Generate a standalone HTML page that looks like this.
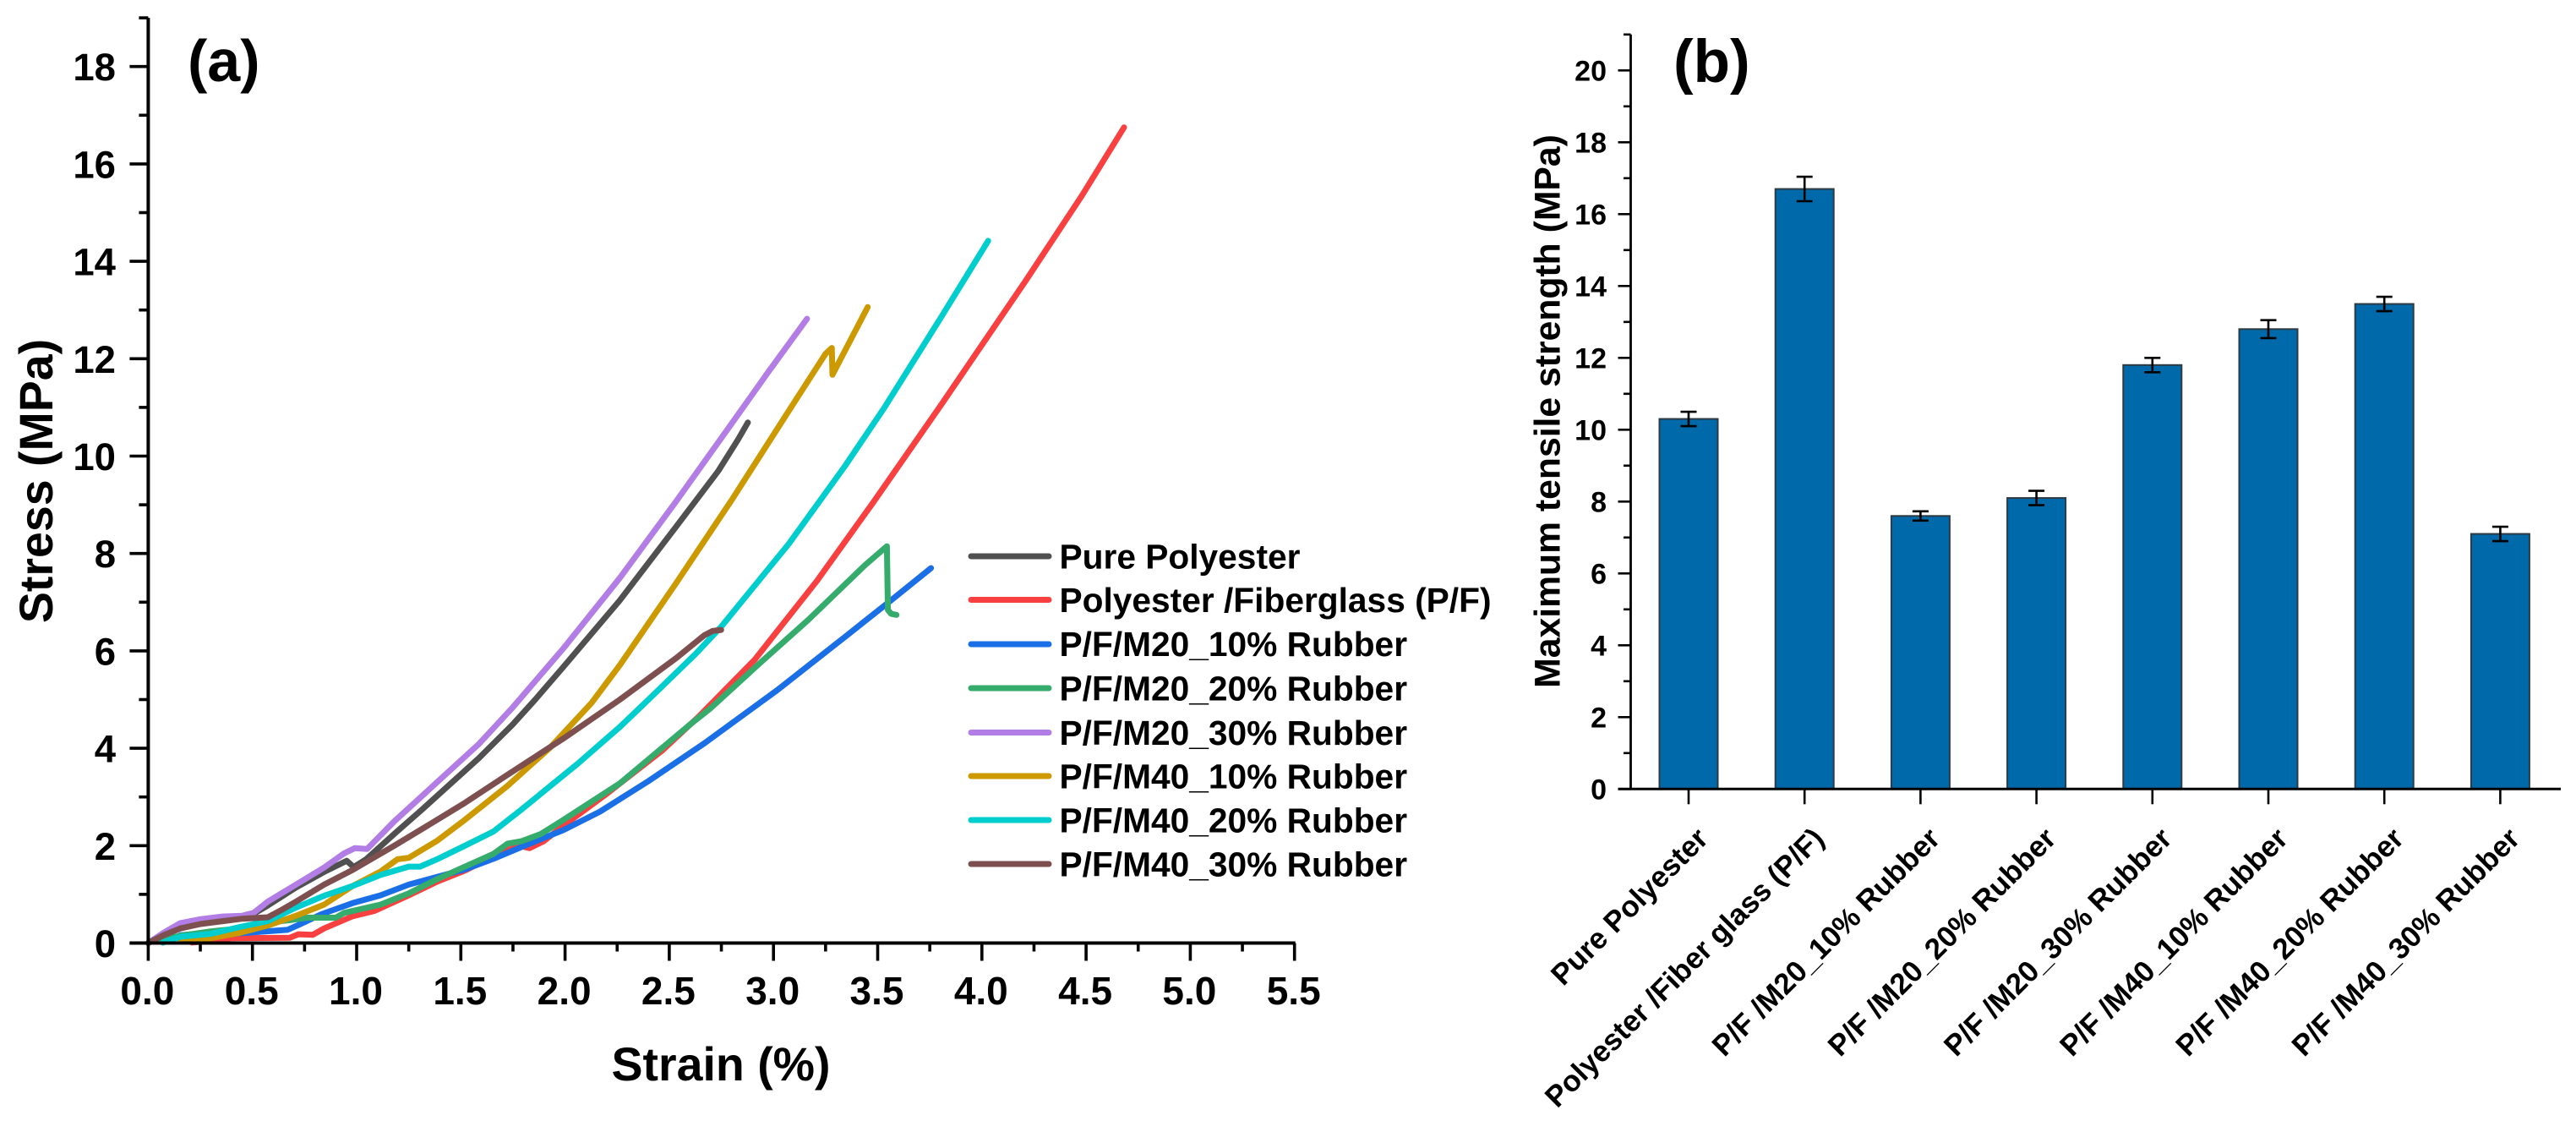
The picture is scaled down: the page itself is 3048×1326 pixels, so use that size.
<!DOCTYPE html>
<html lang="en">
<head>
<meta charset="utf-8">
<title>Stress-strain curves and maximum tensile strength</title>
<style>
html,body{margin:0;padding:0;background:#fff;}
svg{display:block;}
text{font-family:"Liberation Sans",Arial,sans-serif;font-weight:bold;fill:#000;}
</style>
</head>
<body>
<svg id="figure" xmlns="http://www.w3.org/2000/svg" width="3048" height="1326" viewBox="0 0 3048 1326">
  <rect x="0" y="0" width="3048" height="1326" fill="#ffffff"/>
  <g id="panel-a"></g>
  <g id="panel-b"></g>

  <text x="222" y="96" font-size="70">(a)</text>
  <text x="1980" y="97" font-size="71">(b)</text>
  <text x="853" y="1278" font-size="55.5" text-anchor="middle">Strain (%)</text>
  <text transform="translate(62 569) rotate(-90)" font-size="55.5" text-anchor="middle">Stress (MPa)</text>
  <text transform="translate(1845.5 486.5) rotate(-90)" font-size="42.7" text-anchor="middle">Maximum tensile strength (MPa)</text>

  <g font-size="40.7">
    <g>
      <line x1="1149" x2="1241" y1="658" y2="658" stroke="#505050" stroke-width="7" stroke-linecap="round"/>
      <text x="1253.5" y="672.5">Pure Polyester</text>
    </g>
    <g>
      <line x1="1149" x2="1241" y1="709.5" y2="709.5" stroke="#f94040" stroke-width="7" stroke-linecap="round"/>
      <text x="1253.5" y="724">Polyester /Fiberglass (P/F)</text>
    </g>
    <g>
      <line x1="1149" x2="1241" y1="762" y2="762" stroke="#1a6fe6" stroke-width="7" stroke-linecap="round"/>
      <text x="1253.5" y="776">P/F/M20_10% Rubber</text>
    </g>
    <g>
      <line x1="1149" x2="1241" y1="814" y2="814" stroke="#35ab6c" stroke-width="7" stroke-linecap="round"/>
      <text x="1253.5" y="828.5">P/F/M20_20% Rubber</text>
    </g>
    <g>
      <line x1="1149" x2="1241" y1="866.5" y2="866.5" stroke="#b27de4" stroke-width="7" stroke-linecap="round"/>
      <text x="1253.5" y="881">P/F/M20_30% Rubber</text>
    </g>
    <g>
      <line x1="1149" x2="1241" y1="918" y2="918" stroke="#cc9900" stroke-width="7" stroke-linecap="round"/>
      <text x="1253.5" y="932.5">P/F/M40_10% Rubber</text>
    </g>
    <g>
      <line x1="1149" x2="1241" y1="970" y2="970" stroke="#00cdcd" stroke-width="7" stroke-linecap="round"/>
      <text x="1253.5" y="984.5">P/F/M40_20% Rubber</text>
    </g>
    <g>
      <line x1="1149" x2="1241" y1="1022" y2="1022" stroke="#7d4f4f" stroke-width="7" stroke-linecap="round"/>
      <text x="1253.5" y="1036.5">P/F/M40_30% Rubber</text>
    </g>
  </g>
</svg>
<script>
// Panel (a) data: strain (%) and stress (MPa)
const strainPure = [0,0.073,0.154,0.25,0.357,0.452,0.506,0.574,0.709,0.844,0.952,0.986,1.046,1.183,1.316,1.587,1.749,1.857,1.992,2.263,2.533,2.736,2.83,2.877];
const stressPure = [0,0.2,0.38,0.46,0.52,0.55,0.6,0.77,1.14,1.46,1.69,1.56,1.72,2.25,2.75,3.8,4.49,5.0,5.67,7.04,8.55,9.7,10.34,10.69];

const strainFiberglass = [0.21,0.357,0.4,0.68,0.72,0.79,0.844,0.98,1.086,1.25,1.386,1.52,1.656,1.776,1.83,1.897,1.992,2.195,2.465,2.641,2.91,3.209,3.479,3.804,4.21,4.48,4.682];
const stressFiberglass = [0.01,0.07,0.1,0.11,0.18,0.17,0.3,0.55,0.66,0.98,1.26,1.49,1.78,2.0,1.95,2.09,2.41,3.05,3.95,4.65,5.82,7.44,9.05,11.05,13.6,15.35,16.75];

const strainM20r10 = [0.07,0.154,0.3,0.4,0.506,0.668,0.72,0.83,0.98,1.114,1.25,1.386,1.519,1.656,1.79,1.992,2.168,2.398,2.668,3.02,3.344,3.547,3.756];
const stressM20r10 = [0.01,0.16,0.21,0.19,0.22,0.27,0.37,0.59,0.82,0.98,1.2,1.36,1.51,1.73,1.97,2.32,2.7,3.32,4.1,5.2,6.29,6.98,7.7];

const strainM20r20 = [0.03,0.154,0.3,0.44,0.574,0.68,0.763,0.9,0.94,1.115,1.25,1.386,1.52,1.656,1.724,1.79,1.884,1.992,2.263,2.6,2.695,2.925,3.168,3.439,3.544,3.549,3.565,3.59];
const stressM20r20 = [0.04,0.15,0.24,0.3,0.42,0.47,0.52,0.52,0.62,0.79,1.02,1.31,1.57,1.83,2.04,2.09,2.24,2.53,3.28,4.49,4.81,5.71,6.64,7.76,8.15,6.84,6.76,6.74];

const strainM20r30 = [0,0.073,0.154,0.25,0.357,0.452,0.506,0.574,0.709,0.844,0.939,0.992,1.05,1.181,1.357,1.587,1.749,1.992,2.263,2.533,2.803,2.979,3.161];
const stressM20r30 = [0,0.21,0.41,0.49,0.545,0.56,0.62,0.85,1.2,1.55,1.84,1.95,1.93,2.5,3.19,4.09,4.84,6.05,7.5,9.07,10.69,11.75,12.82];

const strainM40r10 = [0.154,0.3,0.44,0.574,0.709,0.844,0.98,1.115,1.196,1.25,1.386,1.519,1.722,1.925,2.127,2.263,2.533,2.803,3.074,3.25,3.28,3.283,3.452];
const stressM40r10 = [0.04,0.1,0.21,0.36,0.56,0.79,1.17,1.47,1.72,1.75,2.1,2.53,3.22,4.0,4.93,5.71,7.39,9.12,10.93,12.1,12.22,11.67,13.06];

const strainM40r20 = [0.07,0.154,0.3,0.44,0.574,0.709,0.844,0.98,1.115,1.25,1.304,1.386,1.52,1.656,1.79,2.06,2.263,2.398,2.627,2.75,3.074,3.344,3.533,3.804,4.03];
const stressM40r20 = [0.01,0.13,0.19,0.33,0.45,0.73,0.97,1.17,1.4,1.57,1.57,1.72,2.0,2.29,2.74,3.68,4.44,4.99,5.94,6.5,8.2,9.8,11.0,12.85,14.42];

const strainM40r30 = [0,0.073,0.154,0.25,0.357,0.452,0.574,0.64,0.709,0.844,0.98,1.181,1.386,1.52,1.722,1.992,2.263,2.533,2.668,2.708,2.749];
const stressM40r30 = [0,0.16,0.3,0.39,0.45,0.5,0.53,0.68,0.85,1.2,1.5,2.0,2.53,2.88,3.45,4.2,5.0,5.85,6.32,6.41,6.43];

const xTickLabelsA = ['0.0','0.5','1.0','1.5','2.0','2.5','3.0','3.5','4.0','4.5','5.0','5.5'];
const yTickLabelsA = ['0','2','4','6','8','10','12','14','16','18'];

// Panel (b) data: maximum tensile strength (MPa)
const categories = ['Pure Polyester','Polyester /Fiber glass (P/F)','P/F /M20_10% Rubber','P/F /M20_20% Rubber','P/F /M20_30% Rubber','P/F /M40_10% Rubber','P/F /M40_20% Rubber','P/F /M40_30% Rubber'];
const strengthValues = [10.3,16.7,7.6,8.1,11.8,12.8,13.5,7.1];
const strengthErrors = [0.2,0.34,0.13,0.2,0.2,0.25,0.2,0.2];
const yTickLabelsB = ['0','2','4','6','8','10','12','14','16','18','20'];

const SVG_NS = 'http://www.w3.org/2000/svg';
function make(parent, tag, attrs, content) {
  const el = document.createElementNS(SVG_NS, tag);
  for (const k in attrs) el.setAttribute(k, attrs[k]);
  if (content !== undefined) el.textContent = content;
  parent.appendChild(el);
  return el;
}

// Panel (a) axis functions
function xA(v) { return 175.4 + v * 246.6; }
function yA(v) { return 1115.5 - v * 57.6; }
// Panel (b) axis functions
function xB(i) { return 1998 + i * 137.2; }
function yB(v) { return 933.3 - v * 42.5; }

const panelA = document.getElementById('panel-a');
const panelB = document.getElementById('panel-b');

// Series drawn in legend order
const seriesX = [strainPure,strainFiberglass,strainM20r10,strainM20r20,strainM20r30,strainM40r10,strainM40r20,strainM40r30];
const seriesY = [stressPure,stressFiberglass,stressM20r10,stressM20r20,stressM20r30,stressM40r10,stressM40r20,stressM40r30];
const seriesColors = ['#505050','#f94040','#1a6fe6','#35ab6c','#b27de4','#cc9900','#00cdcd','#7d4f4f'];
const seriesKeys = ['pure-polyester','polyester-fiberglass','m20-10-rubber','m20-20-rubber','m20-30-rubber','m40-10-rubber','m40-20-rubber','m40-30-rubber'];

seriesX.forEach(function (xs, s) {
  const pts = xs.map(function (x, i) { return xA(x).toFixed(1) + ',' + yA(seriesY[s][i]).toFixed(1); }).join(' ');
  const line = make(panelA, 'polyline', {points: pts, fill: 'none', stroke: seriesColors[s], 'stroke-width': 7, 'stroke-linejoin': 'round', 'stroke-linecap': 'round'});
  
  
});

// Panel (a) axes
const spineA = make(panelA, 'line', {x1: xA(0), x2: xA(0), y1: yA(19), y2: yA(0) + 2, stroke: '#000', 'stroke-width': 4});


const baseA = make(panelA, 'line', {x1: xA(0) - 22, x2: xA(5.5) + 1, y1: yA(0), y2: yA(0), stroke: '#000', 'stroke-width': 4});



for (let v = 0; v <= 19; v++) {
  const major = v % 2 === 0;
  const tick = make(panelA, 'line', {x1: xA(0) - (major ? 22 : 11), x2: xA(0), y1: yA(v), y2: yA(v), stroke: '#000', 'stroke-width': 3.6});
  
  
}
yTickLabelsA.forEach(function (label) {
  const t = make(panelA, 'text', {x: 137, y: yA(Number(label)) + 16.5, 'font-size': 45.5, 'text-anchor': 'end'}, label);
  
  
});
for (let n = 0; n <= 22; n++) {
  const v = n * 0.25;
  const major = n % 2 === 0;
  const tick = make(panelA, 'line', {x1: xA(v), x2: xA(v), y1: yA(0), y2: yA(0) + (major ? 21 : 10), stroke: '#000', 'stroke-width': 3.6});
  
  
}
xTickLabelsA.forEach(function (label) {
  const t = make(panelA, 'text', {x: xA(Number(label)) - 1, y: 1188, 'font-size': 46, 'text-anchor': 'middle'}, label);
  
  
});

// Panel (b) bars and error bars
strengthValues.forEach(function (val, i) {
  const cx = xB(i);
  const bar = make(panelB, 'rect', {x: cx - 34.5, y: yB(val), width: 69, height: yB(0) - yB(val), fill: '#0069aa', stroke: '#2c3a44', 'stroke-width': 2});
  
  
  const err = strengthErrors[i];
  const stem = make(panelB, 'line', {x1: cx, x2: cx, y1: yB(val + err), y2: yB(val - err), stroke: '#000', 'stroke-width': 2.6});
  
  
  const capTop = make(panelB, 'line', {x1: cx - 9.5, x2: cx + 9.5, y1: yB(val + err), y2: yB(val + err), stroke: '#000', 'stroke-width': 2.6});
  
  
  const capBottom = make(panelB, 'line', {x1: cx - 9.5, x2: cx + 9.5, y1: yB(val - err), y2: yB(val - err), stroke: '#000', 'stroke-width': 2.6});
  
  
});

// Panel (b) axes
const spineB = make(panelB, 'line', {x1: 1929.5, x2: 1929.5, y1: yB(21), y2: yB(0) + 1, stroke: '#000', 'stroke-width': 2.8});


const baseB = make(panelB, 'line', {x1: 1914.5, x2: 3030, y1: yB(0), y2: yB(0), stroke: '#000', 'stroke-width': 3});



for (let v = 0; v <= 21; v++) {
  const major = v % 2 === 0;
  const tick = make(panelB, 'line', {x1: 1929.5 - (major ? 15 : 8.5), x2: 1929.5, y1: yB(v), y2: yB(v), stroke: '#000', 'stroke-width': 2.6});
  
  
}
yTickLabelsB.forEach(function (label) {
  const t = make(panelB, 'text', {x: 1901, y: yB(Number(label)) + 12, 'font-size': 34, 'text-anchor': 'end'}, label);
  
  
});
categories.forEach(function (label, i) {
  const cx = xB(i);
  const tick = make(panelB, 'line', {x1: cx, x2: cx, y1: yB(0), y2: yB(0) + 18, stroke: '#000', 'stroke-width': 2.6});
  
  
  const ax = cx + 25;
  const t = make(panelB, 'text', {x: ax, y: 994, 'font-size': 35, 'text-anchor': 'end', transform: 'rotate(-45 ' + ax + ' 994)'}, label);
  
  
});
</script>
</body>
</html>
